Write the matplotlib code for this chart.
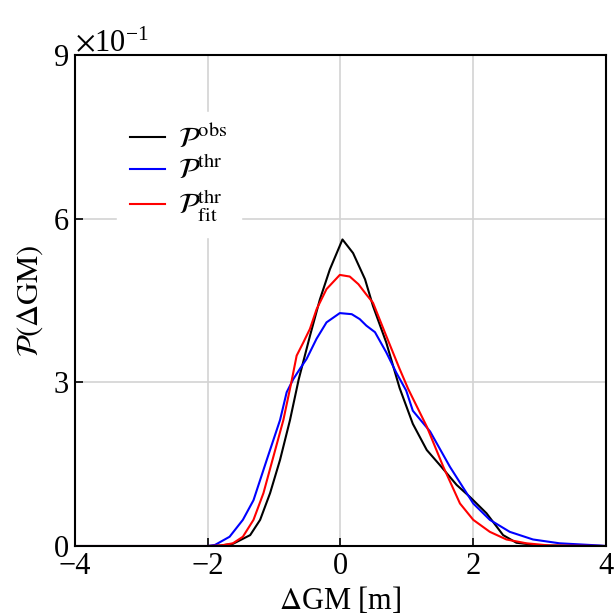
import matplotlib
matplotlib.use("Agg")
import matplotlib.pyplot as plt

# values
xObs = [-4.0, -2.0, -1.8, -1.62, -1.36, -1.21, -1.06, -0.91, -0.76, -0.63, -0.46,
        -0.31, -0.16, 0.03, 0.19, 0.37, 0.49, 0.69, 0.89, 1.09, 1.30, 1.50, 1.75,
        1.95, 2.20, 2.45, 2.65, 3.0, 4.0]
yObs = [0.0, 0.0, 0.001, 0.004, 0.020, 0.048, 0.097, 0.158, 0.231, 0.305, 0.385,
        0.452, 0.507, 0.562, 0.537, 0.489, 0.440, 0.373, 0.290, 0.224, 0.176, 0.148,
        0.112, 0.090, 0.060, 0.020, 0.006, 0.001, 0.0]

xThr = [-4.0, -2.0, -1.89, -1.67, -1.47, -1.31, -1.11, -0.91, -0.81, -0.71, -0.61,
        -0.51, -0.36, -0.21, -0.01, 0.17, 0.29, 0.39, 0.52, 0.69, 0.84, 0.99, 1.09,
        1.35, 1.65, 2.0, 2.25, 2.55, 2.90, 3.30, 3.9, 4.0]
yThr = [0.0, 0.0, 0.002, 0.017, 0.048, 0.084, 0.158, 0.231, 0.282, 0.306, 0.325,
        0.343, 0.380, 0.410, 0.427, 0.425, 0.416, 0.404, 0.392, 0.355, 0.318, 0.285,
        0.248, 0.210, 0.145, 0.078, 0.048, 0.026, 0.012, 0.005, 0.001, 0.0]

xFit = [-4.0, -2.0, -1.8, -1.62, -1.47, -1.31, -1.16, -1.01, -0.86, -0.74, -0.66,
        -0.56, -0.46, -0.36, -0.21, -0.01, 0.14, 0.27, 0.39, 0.49, 0.69, 0.89, 1.02,
        1.30, 1.55, 1.80, 2.0, 2.25, 2.50, 2.80, 3.15, 4.0]
yFit = [0.0, 0.0, 0.001, 0.005, 0.017, 0.048, 0.097, 0.164, 0.231, 0.300, 0.349,
        0.373, 0.398, 0.434, 0.471, 0.497, 0.494, 0.480, 0.461, 0.446, 0.385, 0.325,
        0.288, 0.219, 0.145, 0.078, 0.048, 0.026, 0.012, 0.005, 0.001, 0.0]

xTicks = [-4, -2, 0, 2, 4]
yTicks = [0.0, 0.3, 0.6, 0.9]

plt.rcParams["font.family"] = ["Liberation Serif", "DejaVu Serif"]
plt.rcParams["mathtext.fontset"] = "stix"
plt.rcParams["font.size"] = 22
plt.rcParams["lines.solid_joinstyle"] = "round"

fig = plt.figure(figsize=(6.14, 6.16), dpi=100)
ax = fig.add_axes([0.122, 0.1136, 0.865, 0.797])

ax.plot(xObs, yObs, color="black", lw=1.5, label=r"$\mathcal{P}^{\rm obs}$")
ax.plot(xThr, yThr, color="blue", lw=1.5, label=r"$\mathcal{P}^{\rm thr}$")
ax.plot(xFit, yFit, color="red", lw=1.5, label=r"$\mathcal{P}^{\rm thr}_{\rm fit}$")

ax.set_xlim(-4, 4)
ax.set_ylim(0, 0.9)
ax.set_xticks(xTicks)
ax.set_yticks(yTicks)
ax.ticklabel_format(style="sci", axis="y", scilimits=(0, 0), useMathText=True)
ax.yaxis.get_offset_text().set_fontsize(22)
ax.tick_params(direction="in", length=6, width=1.2, labelsize=22, pad=4)
ax.grid(True, color="#d3d3d3", lw=1.2)
for s in ax.spines.values():
    s.set_linewidth(1.5)

ax.set_xlabel(r"$\Delta$GM [m]", fontsize=22, labelpad=3)
ax.set_ylabel(r"$\mathcal{P}(\Delta{\rm GM})$", fontsize=22, labelpad=6)

leg = ax.legend(loc="upper left", bbox_to_anchor=(0.079, 0.884), borderaxespad=0,
                fontsize=21, handlelength=1.2, frameon=True, framealpha=1,
                fancybox=False, edgecolor="white", facecolor="white",
                borderpad=0.45, labelspacing=0.1, handletextpad=0.45)

fig.savefig("out.png", dpi=100)
